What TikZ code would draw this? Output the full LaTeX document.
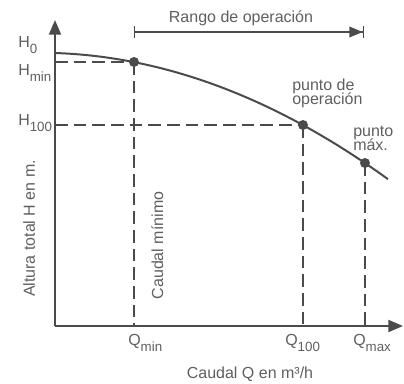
\documentclass[tikz,border=0pt]{standalone}
\usepackage{fontspec}
\setmainfont{Liberation Sans}
\usetikzlibrary{arrows.meta}

\definecolor{inkgray}{RGB}{75,75,75}
\definecolor{txtgray}{RGB}{95,95,95}
\newcommand{\lowsub}[1]{\raisebox{-4.5pt}{\fontsize{10}{10}\selectfont #1}}

\begin{document}
\begin{tikzpicture}[x=0.75pt,y=-0.75pt,
    axis/.style={draw=inkgray,line width=1.5pt,-{Triangle[length=11pt,width=9pt]}},
    guide/.style={draw=inkgray,line width=1.2pt,dash pattern={on 9.5pt off 4.5pt}},
    curve/.style={draw=inkgray,line width=1.5pt},
    dot/.style={circle,fill=inkgray,inner sep=0pt,minimum size=7.5pt},
    lbl/.style={text=txtgray,font={\fontsize{12}{10.5}\selectfont\lineskiplimit=-20pt},inner sep=0pt}]
            \useasboundingbox (0,0) rectangle (404,383);
            \coordinate (O) at (55,326);
            \coordinate (Ytip) at (55,20);
            \coordinate (Xtip) at (403,326);
            \coordinate (Hmin) at (55,62);
            \coordinate (H100) at (55,125);
            \coordinate (Qmin) at (134,326);
            \coordinate (Q100) at (303,326);
            \coordinate (Qmax) at (365,326);
            \coordinate (R1) at (134,32);
            \coordinate (R2) at (364,32);
            \coordinate (Pmin) at (134,62);
            \coordinate (Pop) at (303,125);
            \coordinate (Pmax) at (365,163);
            % guide lines
            \draw[guide] (Hmin) -- (Pmin);
            \draw[guide] (Pmin) -- (Qmin);
            \draw[guide] (H100) -- (Pop);
            \draw[guide] (Pop) -- (Q100);
            \draw[guide] (Pmax) -- (Qmax);
            % axes and curve
            \draw[axis] (O) -- (Ytip);
            \draw[axis] (O) -- (Xtip);
            \draw[curve] plot[domain=0:333,samples=60] ({55+\x},{53+0.0334*\x+0.001036*\x*\x});
            \node[dot] (dmin) at (Pmin) {};
            \node[dot] (dop) at (Pop) {};
            \node[dot] (dmax) at (Pmax) {};
            \draw[draw=inkgray,line width=1pt,{Bar[width=9pt]}-{Triangle[length=10pt,width=8pt,sep=0pt]Bar[width=9pt]}] (R1) -- (R2);
            % labels
            \node[lbl,anchor=base] (rango) at (241,22) {Rango de operación};
            \node[lbl,anchor=base west] (h0) at (18,47) {H\lowsub{0}};
            \node[lbl,anchor=base west] (hmin) at (18,75) {H\lowsub{min}};
            \node[lbl,anchor=base west] (h100) at (18,125) {H\lowsub{100}};
            \node[lbl,anchor=base west] (qmin) at (128,345) {Q\lowsub{min}};
            \node[lbl,anchor=base west] (q100) at (285,345) {Q\lowsub{100}};
            \node[lbl,anchor=base west] (qmax) at (353,345) {Q\lowsub{max}};
            \node[lbl,anchor=base] (xlbl) at (250,378) {Caudal Q en m³/h};
            \node[lbl,anchor=base,rotate=90] (ylbl) at (35,228.5) {Altura total H en m.};
            \node[lbl,anchor=base,rotate=90] (cmin) at (163,245.5) {Caudal mínimo};
            \node[lbl,align=left,anchor=base west] (oplbl) at (292,104) {punto de\\operación};
            \node[lbl,align=left,anchor=base west] (maxlbl) at (353,150) {punto\\máx.};
        \end{tikzpicture}
\end{document}
